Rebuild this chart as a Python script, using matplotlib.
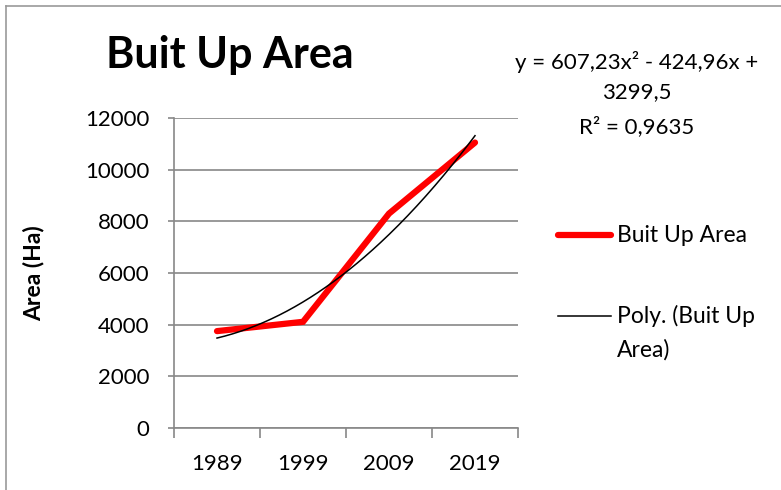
import numpy as np
import matplotlib
matplotlib.use("Agg")
import matplotlib.pyplot as plt
from matplotlib.lines import Line2D

years = ["1989", "1999", "2009", "2019"]
area = [3750, 4110, 8300, 11050]
poly_coef = [607.23, -424.96, 3299.5]   # displayed trendline coefficients
yticks = [0, 2000, 4000, 6000, 8000, 10000, 12000]

plt.rcParams['font.family'] = ['Lato', 'DejaVu Sans']

W, H = 781, 490
fig = plt.figure(figsize=(W/100, H/100), dpi=100)
ax = fig.add_axes([174/W, 1-428/H, (518-174)/W, (428-118)/H])

x = np.arange(1, len(years)+1)
gray = '#888888'
fs = 16

ax.plot(x, area, color='#ff0000', lw=4.5, solid_capstyle='round',
        solid_joinstyle='miter', zorder=3)
xs = np.linspace(1, 4, 200)
ax.plot(xs, np.polyval(poly_coef, xs), color='black', lw=1.1, zorder=4)

ax.set_xlim(0.5, 4.5)
ax.set_ylim(0, 12000)
ax.set_yticks(yticks)
ax.set_yticklabels([str(v) for v in yticks], fontsize=fs)
ax.yaxis.grid(True, color=gray, lw=1.2)
ax.set_axisbelow(True)
ax.set_xticks(x)
ax.set_xticklabels(years, fontsize=fs)
ax.set_xticks(np.arange(0.5, 4.6, 1), minor=True)
ax.tick_params(axis='x', which='major', length=0, pad=19)
ax.tick_params(axis='x', which='minor', length=7, width=1.2, color=gray, direction='out')
ax.tick_params(axis='y', length=4.5, width=1.2, color=gray, direction='out', pad=13)
for s in ['top', 'right']:
    ax.spines[s].set_visible(False)
for s in ['left', 'bottom']:
    ax.spines[s].set_color(gray)
    ax.spines[s].set_linewidth(1.2)

ax.set_ylabel("Area (Ha)", fontsize=16.5, fontweight='bold')
ax.yaxis.set_label_coords((44-174)/(518-174), (428-273)/(428-118))

fig.text(106/W, 1-55/H, "Buit Up Area", fontsize=31, fontweight='bold',
         ha='left', va='center')

fig.text(637/W, 1-62/H, "y = 607,23x² - 424,96x +", fontsize=fs, ha='center', va='center')
fig.text(637/W, 1-92/H, "3299,5", fontsize=fs, ha='center', va='center')
fig.text(637/W, 1-127/H, "R² = 0,9635", fontsize=fs, ha='center', va='center')

# legend
fig.add_artist(Line2D([558/W, 611/W], [1-235/H, 1-235/H], color='#ff0000',
                      lw=4.5, solid_capstyle='round'))
fig.text(617/W, 1-235/H, "Buit Up Area", fontsize=16.5, ha='left', va='center')
fig.add_artist(Line2D([558/W, 611/W], [1-316/H, 1-316/H], color='black', lw=1.1))
fig.text(617/W, 1-316/H, "Poly. (Buit Up", fontsize=16.5, ha='left', va='center')
fig.text(617/W, 1-350/H, "Area)", fontsize=16.5, ha='left', va='center')

# chart frame (partial)
fig.add_artist(Line2D([6/W, 6/W], [0, 1-6/H], color='#999999', lw=1.2))
fig.add_artist(Line2D([6/W, 1], [1-6/H, 1-6/H], color='#999999', lw=1.2))

fig.savefig("out.png", dpi=100, facecolor='white')
